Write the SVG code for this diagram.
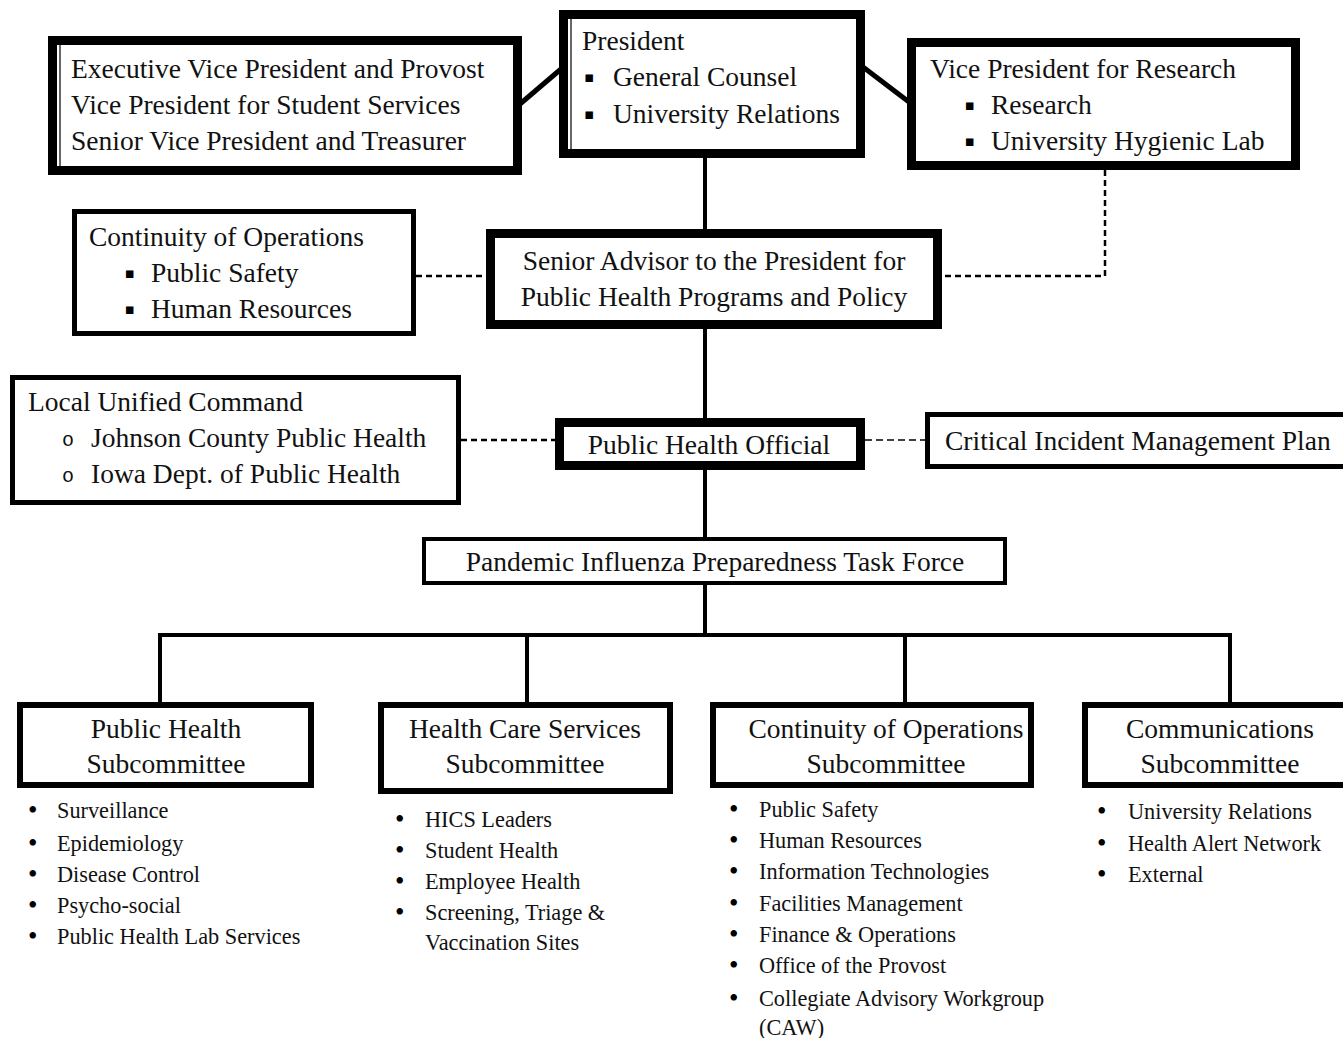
<svg xmlns="http://www.w3.org/2000/svg" width="1343" height="1038" viewBox="0 0 1343 1038">
<style>
.t{font-family:"Liberation Serif","Times New Roman",serif;font-size:27.5px;fill:#111}
.c{text-anchor:middle}
.s{font-family:"Liberation Serif","Times New Roman",serif;font-size:22.3px;fill:#111}
.bu{font-family:"Liberation Serif","Times New Roman",serif;font-size:27px;fill:#000}
.sq{font-family:"DejaVu Sans",sans-serif;font-size:15px;fill:#000}
.ob{font-family:"Liberation Mono","Courier New",monospace;font-size:20px;fill:#111}
.b9{fill:#fff;stroke:#000;stroke-width:9}
.b6{fill:#fff;stroke:#000;stroke-width:6}
.b5{fill:#fff;stroke:#000;stroke-width:5}
.b4{fill:#fff;stroke:#000;stroke-width:4}
.ln{stroke:#000;stroke-width:4;fill:none}
.dg{stroke:#000;stroke-width:5;fill:none}
.ds{stroke:#000;stroke-width:2.5;stroke-dasharray:6 4;fill:none}
.dt{stroke:#000;stroke-width:1.5;stroke-dasharray:7 4;fill:none}
.in{stroke:#000;stroke-width:1.2}
</style>
<rect width="1343" height="1038" fill="#fff"/>
<g id="connectors">
<line class="dg" x1="520" y1="104" x2="561" y2="69"/>
<line class="dg" x1="863" y1="67" x2="909" y2="102"/>
<line class="ln" x1="705" y1="158" x2="705" y2="229"/>
<polyline class="ds" points="1105,170 1105,276 942,276"/>
<line class="ds" x1="416" y1="276" x2="486" y2="276"/>
<line class="ln" x1="705" y1="329" x2="705" y2="418"/>
<line class="ds" x1="461" y1="440" x2="555" y2="440"/>
<line class="dt" x1="865" y1="440" x2="925" y2="440"/>
<line class="ln" x1="705" y1="470" x2="705" y2="537"/>
<line class="ln" x1="705" y1="585" x2="705" y2="635"/>
<line class="ln" x1="158" y1="635" x2="1232" y2="635"/>
<line class="ln" x1="160" y1="635" x2="160" y2="703"/>
<line class="ln" x1="527" y1="635" x2="527" y2="703"/>
<line class="ln" x1="905" y1="635" x2="905" y2="703"/>
<line class="ln" x1="1230" y1="635" x2="1230" y2="703"/>
</g>
<g id="exec">
<rect class="b9" x="52.5" y="40.5" width="465" height="130"/>
<line class="in" x1="60" y1="45" x2="60" y2="166"/>
<text class="t" x="71" y="78">Executive Vice President and Provost</text>
<text class="t" x="71" y="114">Vice President for Student Services</text>
<text class="t" x="71" y="150">Senior Vice President and Treasurer</text>
</g>
<g id="president">
<rect class="b9" x="563.5" y="14.5" width="297" height="139"/>
<line class="in" x1="571" y1="19" x2="571" y2="149"/>
<text class="t" x="582" y="50">President</text>
<text class="sq" x="584" y="82">▪</text>
<text class="t" x="613" y="86">General Counsel</text>
<text class="sq" x="584" y="119">▪</text>
<text class="t" x="613" y="123">University Relations</text>
</g>
<g id="vpresearch">
<rect class="b9" x="911.5" y="42.5" width="384" height="123"/>
<text class="t" x="930" y="78">Vice President for Research</text>
<text class="sq" x="964.5" y="110">▪</text>
<text class="t" x="991" y="114">Research</text>
<text class="sq" x="964.5" y="146">▪</text>
<text class="t" x="991" y="150">University Hygienic Lab</text>
</g>
<g id="coo-top">
<rect class="b5" x="74.5" y="211.5" width="339" height="122"/>
<text class="t" x="89" y="246">Continuity of Operations</text>
<text class="sq" x="124.5" y="278">▪</text>
<text class="t" x="151" y="282">Public Safety</text>
<text class="sq" x="124.5" y="314">▪</text>
<text class="t" x="151" y="318">Human Resources</text>
</g>
<g id="senior-advisor">
<rect class="b9" x="490.5" y="233.5" width="447" height="91"/>
<text class="t c" x="714" y="270">Senior Advisor to the President for</text>
<text class="t c" x="714" y="306">Public Health Programs and Policy</text>
</g>
<g id="local">
<rect class="b5" x="12.5" y="377.5" width="446" height="125"/>
<text class="t" x="28" y="411">Local Unified Command</text>
<text class="ob" x="62" y="446">o</text>
<text class="t" x="91" y="447">Johnson County Public Health</text>
<text class="ob" x="62" y="482">o</text>
<text class="t" x="91" y="483">Iowa Dept. of Public Health</text>
</g>
<g id="pho">
<rect class="b9" x="559.5" y="422.5" width="301" height="43"/>
<text class="t c" x="709" y="454">Public Health Official</text>
</g>
<g id="cimp">
<rect class="b5" x="927.5" y="414.5" width="430" height="52"/>
<text class="t" x="945" y="450">Critical Incident Management Plan</text>
</g>
<g id="taskforce">
<rect class="b4" x="424" y="539" width="581" height="44"/>
<text class="t c" x="715" y="571">Pandemic Influenza Preparedness Task Force</text>
</g>
<g id="sub-ph">
<rect class="b6" x="20" y="705" width="291" height="80"/>
<text class="t c" x="166" y="738">Public Health</text>
<text class="t c" x="166" y="773">Subcommittee</text>
<text class="bu" x="28" y="819">•</text><text class="s" x="57" y="818">Surveillance</text>
<text class="bu" x="28" y="852">•</text><text class="s" x="57" y="851">Epidemiology</text>
<text class="bu" x="28" y="883">•</text><text class="s" x="57" y="882">Disease Control</text>
<text class="bu" x="28" y="914">•</text><text class="s" x="57" y="913">Psycho-social</text>
<text class="bu" x="28" y="945">•</text><text class="s" x="57" y="944">Public Health Lab Services</text>
</g>
<g id="sub-hcs">
<rect class="b6" x="381" y="705" width="289" height="86"/>
<text class="t c" x="525" y="738">Health Care Services</text>
<text class="t c" x="525" y="773">Subcommittee</text>
<text class="bu" x="395" y="828">•</text><text class="s" x="425" y="827">HICS Leaders</text>
<text class="bu" x="395" y="859">•</text><text class="s" x="425" y="858">Student Health</text>
<text class="bu" x="395" y="890">•</text><text class="s" x="425" y="889">Employee Health</text>
<text class="bu" x="395" y="921">•</text><text class="s" x="425" y="920">Screening, Triage &amp;</text>
<text class="s" x="425" y="950">Vaccination Sites</text>
</g>
<g id="sub-coo">
<rect class="b6" x="713" y="705" width="318" height="80"/>
<text class="t c" x="886" y="738">Continuity of Operations</text>
<text class="t c" x="886" y="773">Subcommittee</text>
<text class="bu" x="729" y="818">•</text><text class="s" x="759" y="817">Public Safety</text>
<text class="bu" x="729" y="849">•</text><text class="s" x="759" y="848">Human Resources</text>
<text class="bu" x="729" y="880">•</text><text class="s" x="759" y="879">Information Technologies</text>
<text class="bu" x="729" y="912">•</text><text class="s" x="759" y="911">Facilities Management</text>
<text class="bu" x="729" y="943">•</text><text class="s" x="759" y="942">Finance &amp; Operations</text>
<text class="bu" x="729" y="974">•</text><text class="s" x="759" y="973">Office of the Provost</text>
<text class="bu" x="729" y="1007">•</text><text class="s" x="759" y="1006">Collegiate Advisory Workgroup</text>
<text class="s" x="759" y="1035">(CAW)</text>
</g>
<g id="sub-comm">
<rect class="b6" x="1085" y="705" width="270" height="80"/>
<text class="t c" x="1220" y="738">Communications</text>
<text class="t c" x="1220" y="773">Subcommittee</text>
<text class="bu" x="1097" y="820">•</text><text class="s" x="1128" y="819">University Relations</text>
<text class="bu" x="1097" y="852">•</text><text class="s" x="1128" y="851">Health Alert Network</text>
<text class="bu" x="1097" y="883">•</text><text class="s" x="1128" y="882">External</text>
</g>
</svg>
